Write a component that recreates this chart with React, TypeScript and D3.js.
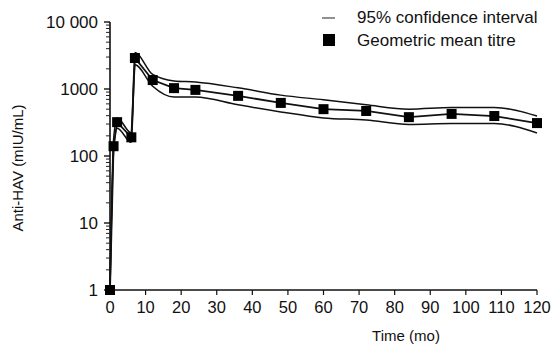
import React, { useEffect, useRef } from "react";
import * as d3 from "d3";

// months after first dose
const months = [0, 1, 2, 6, 7, 12, 18, 24, 36, 48, 60, 72, 84, 96, 108, 120];
// geometric mean titre (mIU/mL)
const gmt = [1, 140, 320, 190, 2900, 1360, 1030, 970, 790, 620, 500, 470, 380, 425, 395, 310];
// 95% confidence interval bounds
const ciUpper = [1, 175, 370, 220, 3500, 1650, 1320, 1270, 1040, 810, 690, 580, 500, 530, 530, 395];
const ciLower = [1, 115, 260, 160, 2300, 1100, 760, 760, 580, 455, 370, 345, 295, 305, 305, 220];

const xTicks = [0, 10, 20, 30, 40, 50, 60, 70, 80, 90, 100, 110, 120];
const yTicks = [1, 10, 100, 1000, 10000];
const yTickLabels = ["1", "10", "100", "1000", "10 000"];

const FONT = "'Liberation Sans', Arial, Helvetica, sans-serif";

function App() {
  const svgRef = useRef<SVGSVGElement>(null);
  const W = 555;
  const H = 350;
  const margin = { top: 22, right: 18, bottom: 60, left: 110 };

  useEffect(() => {
    const svg = d3.select(svgRef.current);
    svg.selectAll("*").remove();

    const x = d3.scaleLinear().domain([0, 120]).range([margin.left, W - margin.right]);
    const y = d3.scaleLog().domain([1, 10000]).range([H - margin.bottom, margin.top]);

    const g = svg.append("g").style("font-family", FONT);

    // y axis line + log ticks (pointing left)
    g.append("line")
      .attr("x1", x(0))
      .attr("x2", x(0))
      .attr("y1", y(1))
      .attr("y2", y(10000))
      .attr("stroke", "#111")
      .attr("stroke-width", 1.6);

    const minor: number[] = [];
    yTicks.slice(0, -1).forEach((d) => {
      for (let k = 2; k <= 9; k++) minor.push(d * k);
    });
    g.selectAll(".ymin")
      .data(minor)
      .enter()
      .append("line")
      .attr("x1", x(0) - 4)
      .attr("x2", x(0))
      .attr("y1", (d) => y(d))
      .attr("y2", (d) => y(d))
      .attr("stroke", "#222")
      .attr("stroke-width", 1);
    g.selectAll(".ymaj")
      .data(yTicks)
      .enter()
      .append("line")
      .attr("x1", x(0) - 6)
      .attr("x2", x(0))
      .attr("y1", (d) => y(d))
      .attr("y2", (d) => y(d))
      .attr("stroke", "#111")
      .attr("stroke-width", 1.4);
    g.selectAll(".ylab")
      .data(yTicks)
      .enter()
      .append("text")
      .attr("x", x(0) - 12)
      .attr("y", (d) => y(d))
      .attr("dy", "0.35em")
      .attr("text-anchor", "end")
      .style("font-size", "17px")
      .attr("fill", "#111")
      .text((d, i) => yTickLabels[i]);

    // x axis
    g.append("line")
      .attr("x1", x(0))
      .attr("x2", x(120))
      .attr("y1", y(1))
      .attr("y2", y(1))
      .attr("stroke", "#111")
      .attr("stroke-width", 1.6);
    g.selectAll(".xt")
      .data(xTicks)
      .enter()
      .append("line")
      .attr("x1", (d) => x(d))
      .attr("x2", (d) => x(d))
      .attr("y1", y(1))
      .attr("y2", y(1) + 5)
      .attr("stroke", "#111")
      .attr("stroke-width", 1.2);
    g.selectAll(".xlab")
      .data(xTicks)
      .enter()
      .append("text")
      .attr("x", (d) => x(d))
      .attr("y", y(1) + 23)
      .attr("text-anchor", "middle")
      .style("font-size", "16.5px")
      .attr("fill", "#111")
      .text((d) => d);

    // axis titles
    g.append("text")
      .attr("x", 406)
      .attr("y", 341)
      .attr("text-anchor", "middle")
      .style("font-size", "15px")
      .attr("fill", "#111")
      .text("Time (mo)");
    g.append("text")
      .attr("transform", `translate(23,${(y(1) + y(10000)) / 2 + 12}) rotate(-90)`)
      .attr("text-anchor", "middle")
      .style("font-size", "15px")
      .attr("fill", "#111")
      .text("Anti-HAV (mIU/mL)");

    // confidence interval lines
    const ciLine = d3
      .line<number>()
      .x((d, i) => x(months[i]))
      .y((d) => y(d))
      .curve(d3.curveMonotoneX);
    [ciUpper, ciLower].forEach((arr) => {
      g.append("path")
        .attr("d", ciLine(arr))
        .attr("fill", "none")
        .attr("stroke", "#111")
        .attr("stroke-width", 1.5);
    });

    // geometric mean titre line + markers
    const meanLine = d3
      .line<number>()
      .x((d, i) => x(months[i]))
      .y((d) => y(d));
    g.append("path")
      .attr("d", meanLine(gmt))
      .attr("fill", "none")
      .attr("stroke", "#111")
      .attr("stroke-width", 1.8);
    const sq = 10;
    g.selectAll(".pt")
      .data(gmt)
      .enter()
      .append("rect")
      .attr("x", (d, i) => x(months[i]) - sq / 2)
      .attr("y", (d) => y(d) - sq / 2)
      .attr("width", sq)
      .attr("height", sq)
      .attr("fill", "#000");

    // legend
    const lg = g.append("g");
    lg.append("line")
      .attr("x1", 322)
      .attr("x2", 335)
      .attr("y1", 18)
      .attr("y2", 18)
      .attr("stroke", "#222")
      .attr("stroke-width", 1);
    lg.append("text")
      .attr("x", 357)
      .attr("y", 23)
      .style("font-size", "17px")
      .attr("fill", "#111")
      .text("95% confidence interval");
    lg.append("rect")
      .attr("x", 323)
      .attr("y", 34)
      .attr("width", 12)
      .attr("height", 12)
      .attr("fill", "#000");
    lg.append("text")
      .attr("x", 357)
      .attr("y", 46)
      .style("font-size", "17px")
      .attr("fill", "#111")
      .text("Geometric mean titre");
  }, []);

  return (
    <svg
      ref={svgRef}
      width={W}
      height={H}
      style={{ position: "absolute", left: 0, top: 0, background: "#fff" }}
    />
  );
}

export default App;
